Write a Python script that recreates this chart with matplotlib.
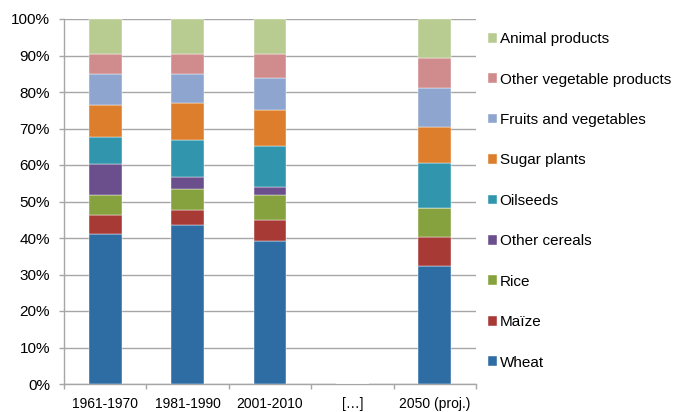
import matplotlib
matplotlib.use("Agg")
import matplotlib.pyplot as plt
import numpy as np

plt.rcParams["font.family"] = ["Liberation Sans", "DejaVu Sans"]

periods = ["1961-1970", "1981-1990", "2001-2010", "[…]", "2050 (proj.)"]
# shares (%) per category, one value per period ([…] is empty)
wheat = [41.2, 43.5, 39.2, 0, 32.2]
maize = [5.0, 4.1, 5.6, 0, 8.0]
rice = [5.6, 5.9, 7.0, 0, 8.0]
other_cereals = [8.6, 3.2, 2.1, 0, 0.0]
oilseeds = [7.3, 10.1, 11.3, 0, 12.3]
sugar_plants = [8.8, 10.2, 9.9, 0, 10.0]
fruits_veg = [8.5, 8.0, 8.8, 0, 10.5]
other_veg = [5.3, 5.3, 6.4, 0, 8.4]
animal = [9.7, 9.7, 9.7, 0, 10.6]

series = [
    ("Wheat", wheat, "#2E6DA4"),
    ("Maïze", maize, "#A83A36"),
    ("Rice", rice, "#86A23F"),
    ("Other cereals", other_cereals, "#6B4E8C"),
    ("Oilseeds", oilseeds, "#3195AE"),
    ("Sugar plants", sugar_plants, "#DC7E2B"),
    ("Fruits and vegetables", fruits_veg, "#8EA6CF"),
    ("Other vegetable products", other_veg, "#D08C8C"),
    ("Animal products", animal, "#B8CC92"),
]

fig = plt.figure(figsize=(6.8, 4.12), dpi=100)
ax = fig.add_axes([64 / 680, 28 / 412, 412 / 680, 365 / 412])

x = np.arange(len(periods))
bottom = np.zeros(len(periods))
handles = []
for name, vals, col in series:
    vals = np.array(vals, dtype=float)
    b = ax.bar(x, vals, 0.4, bottom=bottom, color=col, label=name,
               edgecolor="white", linewidth=0.3, zorder=3)
    handles.append(b)
    bottom += vals

ax.set_xlim(-0.5, len(periods) - 0.5)
ax.set_ylim(0, 100)
ax.set_yticks(np.arange(0, 101, 10))
ax.set_yticklabels([f"{v}%" for v in range(0, 101, 10)], fontsize=11)
ax.yaxis.grid(True, color="#A6A6A6", linewidth=1, zorder=0)
ax.set_xticks(x)
ax.set_xticklabels(periods, fontsize=10)
ax.set_xticks(np.arange(-0.5, len(periods), 1), minor=True)
ax.tick_params(axis="x", which="major", length=0, pad=9.5)
ax.tick_params(axis="x", which="minor", length=3.6, color="#A6A6A6", width=1)
ax.tick_params(axis="y", length=3.6, color="#A6A6A6", width=1, pad=6.5)

for s in ["top", "right"]:
    ax.spines[s].set_visible(False)
for s in ["left", "bottom"]:
    ax.spines[s].set_color("#A6A6A6")
    ax.spines[s].set_linewidth(1)

leg = fig.legend(handles[::-1], [s[0] for s in series][::-1],
                 loc="upper left", bbox_to_anchor=(482 / 680, 1 - 26 / 412),
                 frameon=False, fontsize=11, handlelength=0.6, handleheight=0.6,
                 handletextpad=0.15, labelspacing=1.73, borderaxespad=0)

fig.savefig("out.png", dpi=100)
